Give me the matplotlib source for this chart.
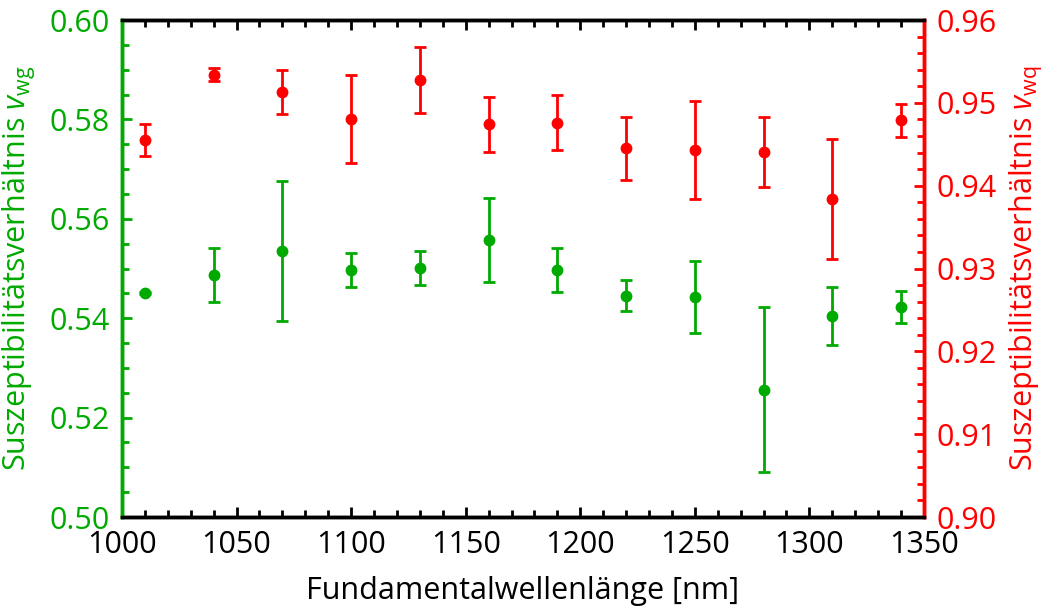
import matplotlib
matplotlib.use("Agg")
import matplotlib.pyplot as plt
from matplotlib.ticker import MultipleLocator, FormatStrFormatter

plt.rcParams['font.family'] = ['Open Sans', 'DejaVu Sans']
plt.rcParams['mathtext.fontset'] = 'custom'
plt.rcParams['mathtext.rm'] = 'Open Sans'
plt.rcParams['mathtext.it'] = 'Open Sans:italic'

wavelength = [1010, 1040, 1070, 1100, 1130, 1160, 1190, 1220, 1250, 1280, 1310, 1340]
v_wg = [0.5451, 0.5487, 0.5535, 0.5497, 0.5501, 0.5557, 0.5497, 0.5445, 0.5443, 0.5256, 0.5404, 0.5423]
v_wg_err = [0.0002, 0.0054, 0.0141, 0.0034, 0.0034, 0.0085, 0.0044, 0.0031, 0.0073, 0.0166, 0.0058, 0.0032]
v_wq = [0.9455, 0.9534, 0.9513, 0.9481, 0.9528, 0.9474, 0.9476, 0.9445, 0.9443, 0.9441, 0.9384, 0.9479]
v_wq_err = [0.0019, 0.0008, 0.0027, 0.0053, 0.0040, 0.0033, 0.0033, 0.0038, 0.0059, 0.0042, 0.0073, 0.0020]

green = '#00AA00'
red = '#FF0000'

fig = plt.figure(figsize=(10.47, 6.12), dpi=100)
ax = fig.add_axes([0.1165, 0.1552, 0.766, 0.812])
ax2 = ax.twinx()

ax.errorbar(wavelength, v_wg, yerr=v_wg_err, fmt='o', color=green, ms=7.5,
            elinewidth=2, capsize=4, capthick=2)
ax2.errorbar(wavelength, v_wq, yerr=v_wq_err, fmt='o', color=red, ms=7.5,
             elinewidth=2, capsize=4, capthick=2)

ax.set_xlim(1000, 1350)
ax.set_ylim(0.50, 0.60)
ax2.set_ylim(0.90, 0.96)

ax.xaxis.set_major_locator(MultipleLocator(50))
ax.xaxis.set_minor_locator(MultipleLocator(10))
ax.yaxis.set_major_locator(MultipleLocator(0.02))
ax.yaxis.set_minor_locator(MultipleLocator(0.005))
ax2.yaxis.set_major_locator(MultipleLocator(0.01))
ax2.yaxis.set_minor_locator(MultipleLocator(0.002))

fs = 22
ax.tick_params(axis='x', which='both', direction='in', top=True, bottom=True,
               colors='black', labelsize=fs, width=2, pad=9)
ax.tick_params(axis='x', which='major', length=7)
ax.tick_params(axis='x', which='minor', length=5)
ax.tick_params(axis='y', which='both', direction='in', colors=green, labelsize=fs, width=2, pad=9)
ax.tick_params(axis='y', which='major', length=7)
ax.tick_params(axis='y', which='minor', length=5)
ax2.tick_params(axis='y', which='both', direction='in', colors=red, labelsize=fs, width=2, pad=9)
ax2.tick_params(axis='y', which='major', length=7)
ax2.tick_params(axis='y', which='minor', length=5)

ax.yaxis.set_major_formatter(FormatStrFormatter('%.2f'))
ax2.yaxis.set_major_formatter(FormatStrFormatter('%.2f'))

for a in (ax, ax2):
    for s in a.spines.values():
        s.set_linewidth(2.5)
    a.spines['top'].set_color('black')
    a.spines['bottom'].set_color('black')
    a.spines['left'].set_color(green)
    a.spines['right'].set_color(red)

ax.set_xlabel('Fundamentalwellenlänge [nm]', fontsize=22, labelpad=12)
ax.set_ylabel(r'Suszeptibilitätsverhältnis $\mathit{v}_{\mathrm{wg}}$', fontsize=22, color=green, labelpad=8)
ax2.set_ylabel(r'Suszeptibilitätsverhältnis $\mathit{v}_{\mathrm{wq}}$', fontsize=22, color=red, labelpad=8)

fig.savefig('out.png', dpi=100)
